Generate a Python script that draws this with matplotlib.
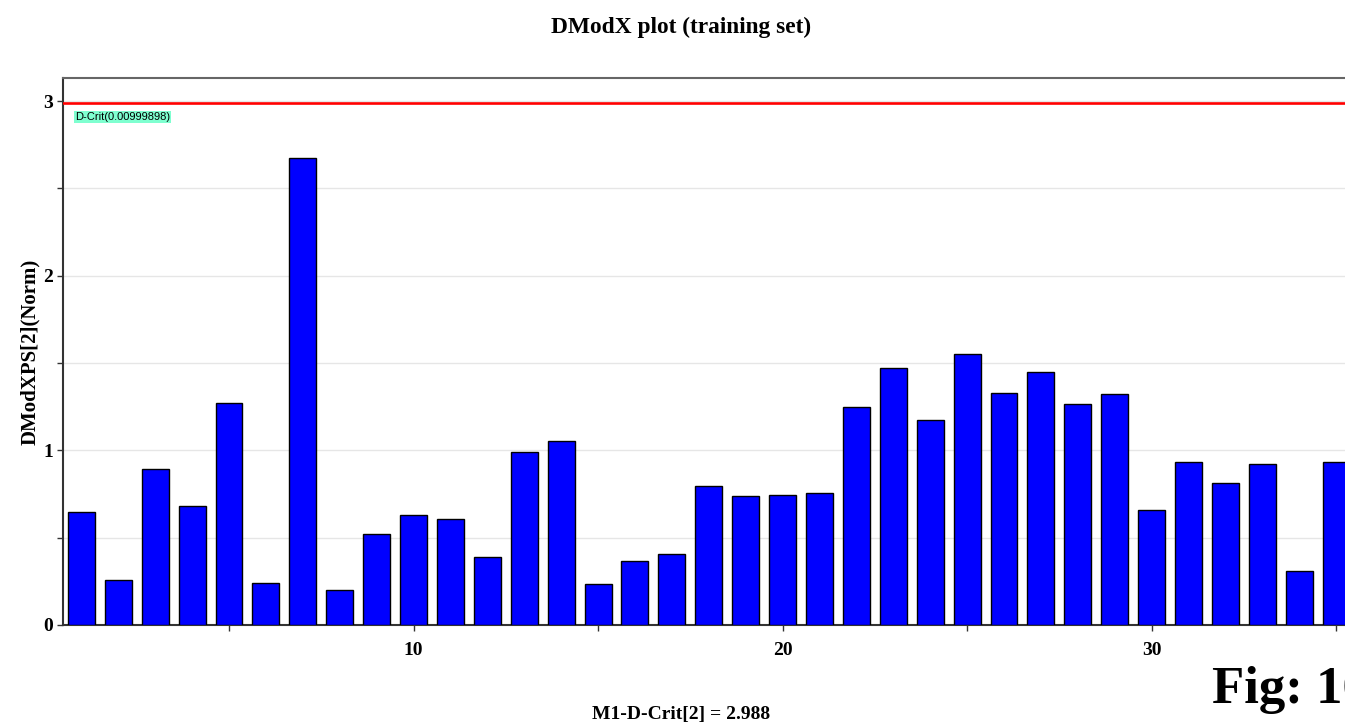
import numpy as np
from matplotlib import pyplot as plt

obs = np.arange(1, 36)
dmodx = [0.646, 0.257, 0.894, 0.680, 1.269, 0.240, 2.674, 0.200, 0.520, 0.629,
         0.606, 0.389, 0.989, 1.051, 0.234, 0.366, 0.406, 0.794, 0.737, 0.743,
         0.754, 1.246, 1.469, 1.171, 1.549, 1.326, 1.446, 1.263, 1.320, 0.657,
         0.931, 0.811, 0.920, 0.309, 0.931]
d_crit = 2.988
x_ticks = [10, 20, 30]
y_ticks = [0, 1, 2, 3]

plt.rcParams['font.family'] = 'Liberation Serif'
plt.rcParams['font.weight'] = 'bold'

fig = plt.figure(figsize=(13.45, 7.28), dpi=100)
ax = fig.add_axes([0.0468, 0.1415, 0.9532, 0.7514])

ax.bar(obs, dmodx, width=0.73, color='#0000ff', edgecolor='black', linewidth=1, zorder=3)
ax.axhline(d_crit, color='#ff0000', linewidth=1.9, zorder=4)
ax.text(0.82, d_crit - 0.08, "D-Crit(0.00999898)", family='Liberation Sans', fontweight='normal',
        fontsize=8, va='center', ha='left', zorder=5,
        bbox=dict(facecolor='#7fffd0', edgecolor='none', pad=0.5))

ax.set_xlim(0.5, 35.24)
ax.set_ylim(0, 3.132)

ax.set_xticks(x_ticks)
ax.set_xticks(np.arange(5, 36, 5), minor=True)
ax.set_yticks(y_ticks)
ax.set_yticks([0.5, 1.5, 2.5], minor=True)
ax.tick_params(axis='both', which='major', labelsize=14, length=4, width=1, color='#333333')
ax.tick_params(axis='both', which='minor', length=4, width=1, color='#333333')
ax.tick_params(axis='x', pad=8)
ax.tick_params(axis='y', pad=3)
ax.grid(True, axis='y', which='both', color='#e6e6e6', linewidth=1, zorder=0)

for s in ['left', 'bottom']:
    ax.spines[s].set_color('#333333')
    ax.spines[s].set_linewidth(1.5)
ax.spines['top'].set_color('#666666')
ax.spines['top'].set_linewidth(1.5)
ax.spines['right'].set_visible(False)

ax.set_ylabel("DModXPS[2](Norm)", fontsize=15, fontweight='bold', labelpad=2)

fig.text(0.506, 0.962, "DModX plot (training set)", ha='center', va='center', fontsize=16.8, fontweight='bold')
fig.text(0.506, 0.019, "M1-D-Crit[2] = 2.988", ha='center', va='center', fontsize=14, fontweight='bold')
fig.text(0.901, 0.052, "Fig: 10", ha='left', va='center', fontsize=38, fontweight='bold')

plt.savefig("out.png", dpi=100)
